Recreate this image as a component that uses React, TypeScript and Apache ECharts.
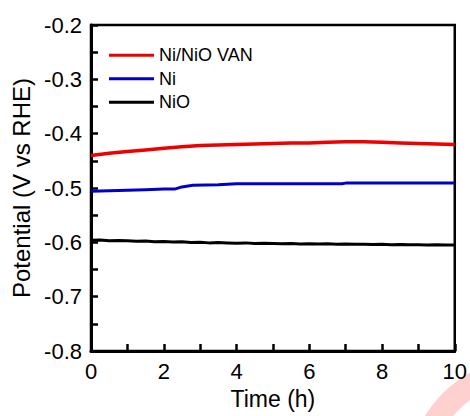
import React, { useEffect, useRef } from "react";
import * as echarts from "echarts";

const seriesNames = ["Ni/NiO VAN", "Ni", "NiO"];
const seriesColors = ["#ee0000", "#0000cc", "#000000"];

const vanTime = [0, 0.5, 1, 1.5, 2, 2.5, 3, 3.5, 4, 4.5, 5, 5.5, 6, 6.5, 7, 7.5, 8, 8.5, 9, 9.5, 10];
const vanValues = [-0.44, -0.436, -0.433, -0.43, -0.427, -0.424, -0.422, -0.421, -0.42, -0.419, -0.418, -0.417, -0.417, -0.416, -0.415, -0.415, -0.416, -0.417, -0.418, -0.419, -0.42];

const niTime = [0, 0.5, 1, 1.5, 2, 2.3, 2.5, 2.8, 3.5, 4, 5, 6, 6.9, 7, 8, 9, 10];
const niValues = [-0.506, -0.505, -0.504, -0.503, -0.502, -0.502, -0.498, -0.495, -0.494, -0.492, -0.492, -0.492, -0.492, -0.491, -0.491, -0.491, -0.491];

const nioTime = [0, 0.25, 0.5, 0.75, 1, 1.25, 1.5, 1.75, 2, 2.25, 2.5, 2.75, 3, 3.25, 3.5, 3.75, 4, 4.25, 4.5, 4.75, 5, 5.25, 5.5, 5.75, 6, 6.25, 6.5, 6.75, 7, 7.25, 7.5, 7.75, 8, 8.25, 8.5, 8.75, 9, 9.25, 9.5, 9.75, 10];
const nioValues = [-0.596, -0.5955, -0.597, -0.5965, -0.597, -0.598, -0.5975, -0.599, -0.5985, -0.5995, -0.599, -0.6005, -0.6, -0.601, -0.6005, -0.601, -0.6015, -0.601, -0.602, -0.6015, -0.602, -0.6025, -0.602, -0.603, -0.6025, -0.603, -0.6025, -0.6035, -0.603, -0.6035, -0.6035, -0.604, -0.6035, -0.6045, -0.604, -0.6045, -0.6045, -0.605, -0.6045, -0.605, -0.605];

const xTicks = { min: 0, max: 10, interval: 2 };
const yTicks = { min: -0.8, max: -0.2, interval: 0.1 };

const pairs = (xs: number[], ys: number[]) => xs.map((x, i) => [x, ys[i]]);

export default function App() {
  const ref = useRef<HTMLDivElement>(null);
  useEffect(() => {
    if (!ref.current) return;
    const chart = echarts.init(ref.current, undefined, { renderer: "svg" });
    const font = "Liberation Sans, Arial, sans-serif";
    const axisCommon = {
      axisLine: { show: true, onZero: false, lineStyle: { color: "#000", width: 3 } },
      axisTick: { show: true, inside: true, length: 7, lineStyle: { color: "#000", width: 2.5 } },
      minorTick: { show: true, splitNumber: 2, length: 7, lineStyle: { color: "#000", width: 2.5 } },
      splitLine: { show: false },
      nameTextStyle: { color: "#000", fontSize: 23, fontFamily: font },
      axisLabel: { color: "#000", fontSize: 22, fontFamily: font },
    };
    const datasets = [pairs(vanTime, vanValues), pairs(niTime, niValues), pairs(nioTime, nioValues)];
    chart.setOption({
      animation: false,
      backgroundColor: "#fff",
      graphic: [
        {
          type: "ring",
          z: -10,
          silent: true,
          shape: { cx: 530, cy: 480, r: 123, r0: 100 },
          style: { fill: "#ffd0d0" },
        },
      ],
      grid: { left: 91, right: 15, top: 25, bottom: 65, show: true, borderColor: "#000", borderWidth: 2.5, backgroundColor: "transparent" },
      legend: {
        show: true,
        orient: "vertical",
        left: 104,
        top: 41,
        itemWidth: 45,
        itemHeight: 3,
        itemGap: 5,
        icon: "rect",
        data: seriesNames.map((n, i) => ({ name: n, itemStyle: { color: seriesColors[i] } })),
        textStyle: { color: "#000", fontSize: 18, fontFamily: font, lineHeight: 18.5 },
      },
      xAxis: {
        type: "value",
        ...xTicks,
        name: "Time (h)",
        nameLocation: "middle",
        nameGap: 36,
        ...axisCommon,
        axisLabel: { ...axisCommon.axisLabel, margin: 9 },
      },
      yAxis: {
        type: "value",
        ...yTicks,
        name: "Potential (V vs RHE)",
        nameLocation: "middle",
        nameGap: 58,
        ...axisCommon,
        nameTextStyle: { ...axisCommon.nameTextStyle, fontSize: 24 },
        axisLabel: { ...axisCommon.axisLabel, margin: 9, formatter: (v: number) => v.toFixed(1) },
      },
      series: seriesNames.map((n, i) => ({
        name: n,
        type: "line",
        data: datasets[i],
        showSymbol: false,
        symbol: "none",
        lineStyle: { color: seriesColors[i], width: i === 0 ? 3.5 : 3 },
        itemStyle: { color: seriesColors[i] },
      })),
    });
    return () => chart.dispose();
  }, []);
  return <div ref={ref} style={{ position: "absolute", left: 0, top: 0, width: 470, height: 416 }} />;
}
